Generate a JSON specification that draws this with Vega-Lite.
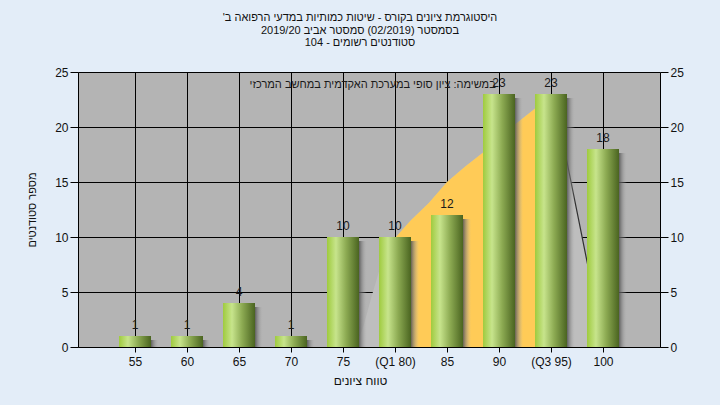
{
  "$schema": "https://vega.github.io/schema/vega-lite/v6.json",
  "width": 582,
  "height": 275,
  "autosize": {"type": "none"},
  "padding": {"left": 78, "top": 72, "right": 60, "bottom": 58},
  "background": "#e3edf8",
  "config": {
    "view": {"fill": "#b4b4b4", "stroke": null},
    "font": "Liberation Sans",
    "axis": {
      "labelFont": "Liberation Sans",
      "titleFont": "Liberation Sans",
      "labelColor": "#111111",
      "titleColor": "#111111",
      "titleFontWeight": "normal",
      "domainColor": "#000000",
      "tickColor": "#000000",
      "gridColor": "#000000",
      "gridOpacity": 1,
      "gridWidth": 1,
      "domainWidth": 1,
      "zindex": 0
    }
  },
  "title": {
    "text": [
      "היסטוגרמת ציונים בקורס - שיטות כמותיות במדעי הרפואה ב'\u200f",
      "בסמסטר  (02/2019)  סמסטר אביב 2019/20",
      "סטודנטים רשומים - 104"
    ],
    "font": "Liberation Sans",
    "fontSize": 11,
    "fontWeight": "normal",
    "lineHeight": 12.5,
    "offset": 18,
    "dx": -9,
    "color": "#111111",
    "anchor": "middle"
  },
  "resolve": {"axis": {"x": "independent", "y": "independent"}},
  "datasets": {
    "bars": [
      {"pos": 1, "label": "55", "count": 1},
      {"pos": 2, "label": "60", "count": 1},
      {"pos": 3, "label": "65", "count": 4},
      {"pos": 4, "label": "70", "count": 1},
      {"pos": 5, "label": "75", "count": 10},
      {"pos": 6, "label": "(Q1 80)", "count": 10},
      {"pos": 7, "label": "85", "count": 12},
      {"pos": 8, "label": "90", "count": 23},
      {"pos": 9, "label": "(Q3 95)", "count": 23},
      {"pos": 10, "label": "100", "count": 18}
    ],
    "curve": [
      {"pos": 5.25, "v": 0},
      {"pos": 5.4, "v": 2},
      {"pos": 5.55, "v": 4.6},
      {"pos": 5.7, "v": 7},
      {"pos": 5.85, "v": 8.5},
      {"pos": 6.0, "v": 9.9},
      {"pos": 6.3, "v": 11.5},
      {"pos": 6.65, "v": 13.1},
      {"pos": 7.0, "v": 15},
      {"pos": 7.35, "v": 16.4},
      {"pos": 7.7, "v": 17.7},
      {"pos": 8.0, "v": 19},
      {"pos": 8.3, "v": 20.2},
      {"pos": 8.7, "v": 21.7},
      {"pos": 9.0, "v": 22.6},
      {"pos": 9.15, "v": 20.5},
      {"pos": 9.3, "v": 17},
      {"pos": 9.5, "v": 12.3},
      {"pos": 9.7, "v": 7.6},
      {"pos": 10.03, "v": 0}
    ],
    "note": [
      {"pos": 5.57, "v": 23.8, "text": "במשימה: ציון סופי במערכת האקדמית במחשב המרכזי"}
    ]
  },
  "layer": [
    {
      "data": {"name": "curve"},
      "mark": {"type": "area", "color": "#bebebe", "interpolate": "linear"},
      "encoding": {
        "x": {
          "field": "pos", "type": "quantitative",
          "scale": {"domain": [0, 11], "nice": false, "zero": false},
          "axis": {
            "orient": "bottom",
            "values": [1, 2, 3, 4, 5, 6, 7, 8, 9, 10],
            "labelExpr": "datum.value == 6 ? '(Q1 80)' : datum.value == 9 ? '(Q3 95)' : '' + (50 + 5 * datum.value)",
            "title": "טווח ציונים",
            "titleFontSize": 12,
            "titlePadding": 8,
            "titleX": 282,
            "labelFontSize": 12,
            "labelPadding": 4,
            "tickSize": 5,
            "grid": true,
            "zindex": 0,
            "labelFlush": false,
            "labelOverlap": false
          }
        },
        "y": {
          "field": "v", "type": "quantitative",
          "scale": {"domain": [0, 25], "nice": false},
          "axis": {
            "orient": "left",
            "values": [0, 5, 10, 15, 20, 25],
            "title": "מספר סטודנטים",
            "titleFontSize": 11,
            "titleX": -41,
            "labelFontSize": 12,
            "labelPadding": 2,
            "tickSize": 8,
            "grid": true,
            "zindex": 0
          }
        }
      }
    },
    {
      "data": {"name": "curve"},
      "transform": [{"filter": "datum.pos >= 6 && datum.pos <= 9"}],
      "mark": {"type": "area", "color": "#ffcb57", "interpolate": "linear"},
      "encoding": {
        "x": {"field": "pos", "type": "quantitative", "axis": null},
        "y": {"field": "v", "type": "quantitative", "axis": null}
      }
    },
    {
      "data": {"name": "curve"},
      "transform": [{"filter": "datum.pos >= 9"}],
      "mark": {"type": "line", "color": "#303030", "strokeWidth": 1.2},
      "encoding": {
        "x": {"field": "pos", "type": "quantitative", "axis": null},
        "y": {"field": "v", "type": "quantitative", "axis": null}
      }
    },
    {
      "data": {"name": "bars"},
      "mark": {
        "type": "bar",
        "width": 32,
        "xOffset": 8,
        "yOffset": 4,
        "clip": true,
        "color": {
          "gradient": "linear", "x1": 0, "x2": 1, "y1": 0, "y2": 0,
          "stops": [
            {"offset": 0, "color": "#404040"},
            {"offset": 0.72, "color": "#4a4a4a"},
            {"offset": 1, "color": "rgba(180,180,180,0)"}
          ]
        }
      },
      "encoding": {
        "x": {"field": "pos", "type": "quantitative", "axis": null},
        "y": {"field": "count", "type": "quantitative", "axis": null}
      }
    },
    {
      "data": {"name": "bars"},
      "mark": {
        "type": "bar",
        "width": 32,
        "color": {
          "gradient": "linear", "x1": 0, "x2": 1, "y1": 0, "y2": 0,
          "stops": [
            {"offset": 0, "color": "#9fcb3e"},
            {"offset": 0.28, "color": "#c7e48c"},
            {"offset": 0.6, "color": "#8caa52"},
            {"offset": 1, "color": "#4a6420"}
          ]
        }
      },
      "encoding": {
        "x": {"field": "pos", "type": "quantitative", "axis": null},
        "y": {"field": "count", "type": "quantitative", "axis": null}
      }
    },
    {
      "data": {"name": "bars"},
      "mark": {"type": "text", "fontSize": 12, "color": "#1a1a1a", "baseline": "alphabetic", "dy": -7},
      "encoding": {
        "x": {"field": "pos", "type": "quantitative", "axis": null},
        "y": {
          "field": "count", "type": "quantitative",
          "axis": {
            "orient": "right",
            "values": [0, 5, 10, 15, 20, 25],
            "title": null,
            "labelFontSize": 12,
            "labelPadding": 2,
            "tickSize": 8,
            "grid": false,
            "zindex": 0
          }
        },
        "text": {"field": "count", "type": "quantitative"}
      }
    },
    {
      "data": {"name": "note"},
      "mark": {"type": "text", "fontSize": 11, "color": "#1a1a1a", "align": "center", "baseline": "middle"},
      "encoding": {
        "x": {"field": "pos", "type": "quantitative", "axis": null},
        "y": {"field": "v", "type": "quantitative", "axis": null},
        "text": {"field": "text"}
      }
    }
  ]
}
